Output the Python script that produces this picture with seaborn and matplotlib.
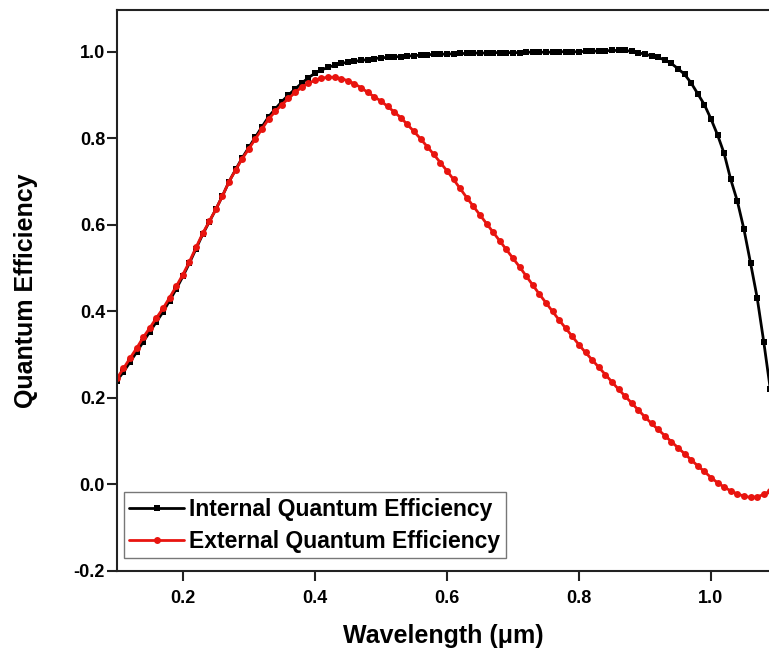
import numpy as np
import pandas as pd
import matplotlib
matplotlib.use('Agg')
import matplotlib.pyplot as plt
import seaborn as sns

# wavelength grid (um), one point every 0.01
wavelength = np.round(np.arange(0.10, 1.095, 0.01), 2)

iqe = [0.240, 0.260, 0.283, 0.306, 0.330, 0.353, 0.376, 0.399, 0.425, 0.452,
       0.481, 0.512, 0.545, 0.578, 0.607, 0.636, 0.667, 0.700, 0.728, 0.755,
       0.779, 0.803, 0.827, 0.850, 0.868, 0.885, 0.900, 0.914, 0.927, 0.940,
       0.950, 0.958, 0.964, 0.969, 0.973, 0.976, 0.978, 0.980, 0.982, 0.984,
       0.986, 0.987, 0.988, 0.989, 0.990, 0.991, 0.992, 0.993, 0.994, 0.994,
       0.995, 0.995, 0.996, 0.996, 0.997, 0.997, 0.997, 0.998, 0.998, 0.998,
       0.998, 0.998, 0.999, 0.999, 0.999, 0.999, 0.999, 1.000, 1.000, 1.000,
       1.000, 1.001, 1.001, 1.002, 1.002, 1.003, 1.003, 1.003, 1.001, 0.998,
       0.994, 0.991, 0.987, 0.981, 0.973, 0.961, 0.948, 0.928, 0.903, 0.878,
       0.845, 0.808, 0.765, 0.705, 0.655, 0.590, 0.512, 0.432, 0.330, 0.220]

eqe = [0.245, 0.268, 0.292, 0.315, 0.340, 0.362, 0.385, 0.407, 0.432, 0.458,
       0.485, 0.515, 0.548, 0.580, 0.608, 0.636, 0.667, 0.700, 0.727, 0.753,
       0.776, 0.799, 0.822, 0.845, 0.862, 0.878, 0.892, 0.906, 0.918, 0.927,
       0.934, 0.939, 0.941, 0.941, 0.938, 0.933, 0.926, 0.917, 0.906, 0.896,
       0.886, 0.874, 0.861, 0.848, 0.832, 0.816, 0.799, 0.781, 0.763, 0.744,
       0.725, 0.705, 0.684, 0.663, 0.643, 0.623, 0.603, 0.583, 0.563, 0.543,
       0.523, 0.503, 0.482, 0.461, 0.440, 0.420, 0.400, 0.380, 0.361, 0.342,
       0.323, 0.305, 0.288, 0.271, 0.254, 0.237, 0.220, 0.204, 0.188, 0.172,
       0.156, 0.141, 0.127, 0.113, 0.099, 0.085, 0.071, 0.057, 0.043, 0.030,
       0.016, 0.004, -0.006, -0.015, -0.022, -0.027, -0.030, -0.029, -0.023, -0.015]

df = pd.DataFrame({'wavelength': wavelength, 'iqe': iqe, 'eqe': eqe})

sns.set_theme(style='ticks')
plt.rcParams['font.family'] = ['Liberation Sans', 'DejaVu Sans']
plt.rcParams['font.weight'] = 'bold'
plt.rcParams['text.color'] = 'black'
plt.rcParams['axes.labelcolor'] = 'black'

fig = plt.figure(figsize=(7.69, 6.61), dpi=100)
ax = fig.add_axes([0.152, 0.1362, 0.848, 0.849])

sns.lineplot(data=df, x='wavelength', y='iqe', ax=ax, color='black', linewidth=2,
             marker='s', markersize=4, markeredgewidth=0,
             label='Internal Quantum Efficiency')
sns.lineplot(data=df, x='wavelength', y='eqe', ax=ax, color='#e8140f', linewidth=2,
             marker='o', markersize=5, markeredgewidth=0,
             label='External Quantum Efficiency')

ax.set_xlim(0.1, 1.088)
ax.set_ylim(-0.2, 1.097)
ax.set_xticks([0.2, 0.4, 0.6, 0.8, 1.0])
ax.set_yticks([-0.2, 0.0, 0.2, 0.4, 0.6, 0.8, 1.0])
ax.set_xticklabels(['0.2', '0.4', '0.6', '0.8', '1.0'])
ax.set_yticklabels(['-0.2', '0.0', '0.2', '0.4', '0.6', '0.8', '1.0'])

ax.spines['right'].set_visible(False)
for s in ['left', 'bottom', 'top']:
    ax.spines[s].set_linewidth(1.5)
    ax.spines[s].set_color('#222222')

ax.tick_params(axis='both', direction='out', length=7, width=1.5, color='#222222',
               labelsize=13, labelcolor='black')
ax.tick_params(axis='x', pad=7)
ax.tick_params(axis='y', pad=1.5)
for lbl in ax.get_xticklabels() + ax.get_yticklabels():
    lbl.set_fontweight('bold')

ax.set_xlabel('Wavelength (\u03bcm)', fontsize=18, fontweight='bold', labelpad=12)
ax.set_ylabel('Quantum Efficiency', fontsize=18, fontweight='bold', labelpad=26)

leg = ax.legend(loc='lower left', bbox_to_anchor=(0.0, 0.01), frameon=True,
                fancybox=False, edgecolor='#777777', framealpha=1,
                prop={'size': 16.5, 'weight': 'bold'},
                handlelength=2.4, handletextpad=0.2, borderpad=0.25,
                labelspacing=0.4, borderaxespad=0.3)
leg.get_frame().set_linewidth(1.0)
for t in leg.get_texts():
    t.set_color('black')

fig.savefig('out.png', dpi=100)
